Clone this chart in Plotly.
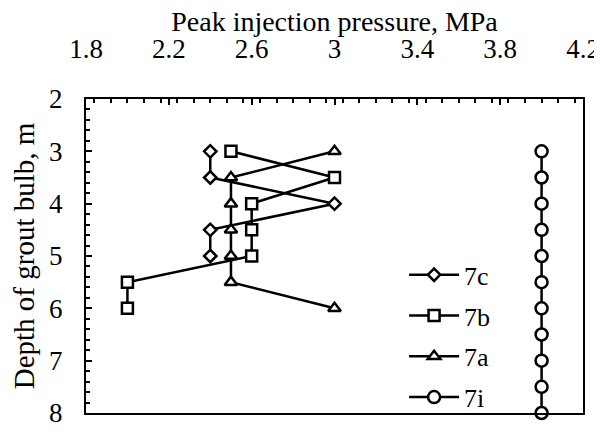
import plotly.graph_objects as go

# depth of grout bulb (m) and peak injection pressure (MPa) per test
depth_7c = [3, 3.5, 4, 4.5, 5]
press_7c = [2.4, 2.4, 3.0, 2.4, 2.4]

depth_7b = [3, 3.5, 4, 4.5, 5, 5.5, 6]
press_7b = [2.5, 3.0, 2.6, 2.6, 2.6, 2.0, 2.0]

depth_7a = [3, 3.5, 4, 4.5, 5, 5.5, 6]
press_7a = [3.0, 2.5, 2.5, 2.5, 2.5, 2.5, 3.0]

depth_7i = [3, 3.5, 4, 4.5, 5, 5.5, 6, 6.5, 7, 7.5, 8]
press_7i = [4.0, 4.0, 4.0, 4.0, 4.0, 4.0, 4.0, 4.0, 4.0, 4.0, 4.0]

FONT = "Liberation Serif, Times New Roman, serif"

series = [
    ("7c", press_7c, depth_7c, "diamond", 9.5),
    ("7b", press_7b, depth_7b, "square", 11),
    ("7a", press_7a, depth_7a, "triangle-up", 11),
    ("7i", press_7i, depth_7i, "circle", 12),
]

fig = go.Figure()
for i, (name, x, y, sym, size) in enumerate(series):
    fig.add_trace(go.Scatter(
        x=x, y=y, name=name, mode="lines+markers",
        line=dict(color="black", width=2.5),
        marker=dict(symbol=sym, size=size, color="white",
                    line=dict(color="black", width=2.5)),
        legendgroup=f"g{i}",
        cliponaxis=False,
    ))

# the page body keeps its default 8px margin, so the figure is 8px smaller
fig.update_layout(
    width=594, height=427,
    margin=dict(l=78, r=19, t=91, b=22, autoexpand=False),
    paper_bgcolor="white", plot_bgcolor="white",
    font=dict(family=FONT, color="black", size=27),
    title=dict(text="Peak injection pressure, MPa", font=dict(family=FONT, size=28),
               x=0.5, xref="paper", xanchor="center",
               y=0.970, yref="container", yanchor="middle"),
    showlegend=True,
    legend=dict(
        x=0.64, y=0.515, xanchor="left", yanchor="top",
        bgcolor="rgba(0,0,0,0)", font=dict(family=FONT, size=26),
        traceorder="grouped", tracegroupgap=4, itemwidth=50,
    ),
    xaxis=dict(
        side="top", range=[1.8, 4.2], dtick=0.4, tick0=1.8,
        showgrid=False, zeroline=False, automargin=False,
        showline=True, linecolor="black", linewidth=2, mirror=True,
        ticks="inside", ticklen=6, tickwidth=1.5, tickcolor="black",
        minor=dict(dtick=0.08, ticks="inside", ticklen=4, tickcolor="black"),
        ticklabelstandoff=28,
        tickfont=dict(family=FONT, size=27),
    ),
    yaxis=dict(
        range=[8, 2], dtick=1, tick0=2,
        showgrid=False, zeroline=False, automargin=False,
        showline=True, linecolor="black", linewidth=2, mirror=True,
        ticks="inside", ticklen=6, tickwidth=1.5, tickcolor="black",
        minor=dict(dtick=0.2, ticks="inside", ticklen=4, tickcolor="black"),
        ticklabelstandoff=16,
        tickfont=dict(family=FONT, size=27),
        title=dict(text="Depth of grout bulb, m",
                   font=dict(family=FONT, size=29), standoff=15),
    ),
)

fig.write_html("out.html")
